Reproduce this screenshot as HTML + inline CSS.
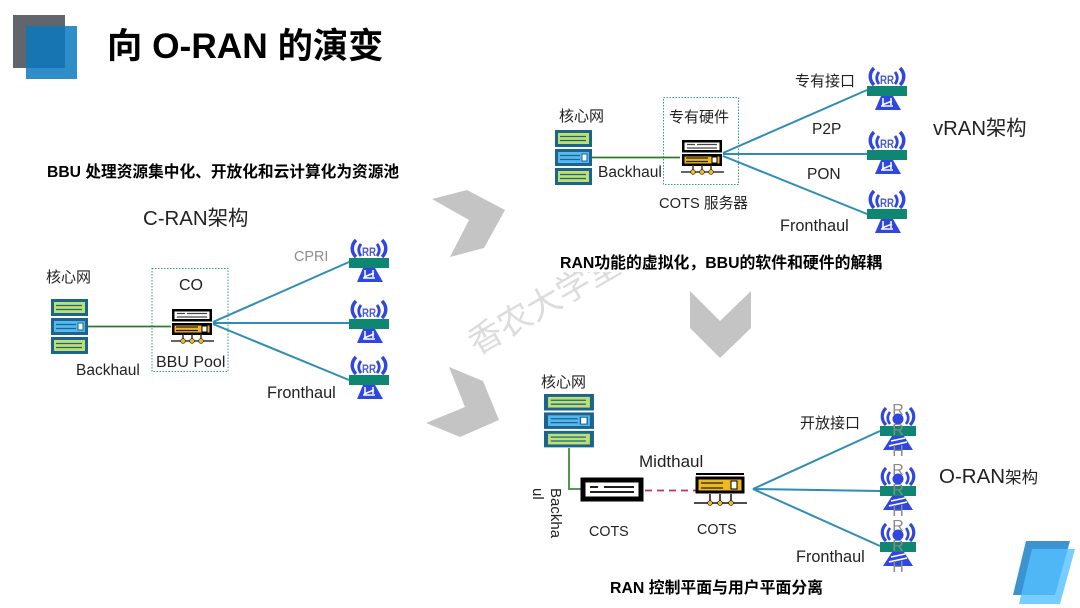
<!DOCTYPE html>
<html><head><meta charset="utf-8"><style>
html,body{margin:0;padding:0;background:#fff}
svg{display:block}
text{font-family:"Liberation Sans","Noto Sans CJK SC",sans-serif;fill:#222}
.b{font-weight:700;fill:#000;font-family:"Liberation Sans","Noto Sans CJK SC",sans-serif}
</style></head><body>
<svg width="1080" height="608" viewBox="0 0 1080 608" xmlns="http://www.w3.org/2000/svg">
<defs>
<g id="stack">
<g id="sv"><rect x="0" y="0" width="37" height="17" fill="#1b6490"/><rect x="3" y="3" width="31" height="11" fill="#bfe06a"/><path d="M5 6.500h26M5 10.500h26" stroke="#1b6490" stroke-width="1.300"/></g>
<rect x="0" y="19" width="37" height="17" fill="#1b6490"/><rect x="3" y="22" width="31" height="11" fill="#55b8ee"/><path d="M5 25.500h20M5 29.500h20" stroke="#1b6490" stroke-width="1.300"/><rect x="27" y="24" width="5" height="7" fill="#fff" stroke="#1b6490"/>
<use href="#sv" y="38"/>
</g>
<g id="bbu">
<rect x="1.250" y="1.250" width="37.500" height="10" fill="#fff" stroke="#000" stroke-width="2.500"/><path d="M5 4.500h8M15 4.500h20M5 8h30" stroke="#444" stroke-width="1.300"/>
<rect x="1.250" y="15.250" width="37.500" height="9.500" fill="#eeb820" stroke="#000" stroke-width="2.500"/><path d="M4 18h22M4 21.500h22" stroke="#222" stroke-width="1.300"/><rect x="30" y="17" width="5" height="6" fill="#fff" stroke="#000"/>
<path d="M-1 32h43M11 25v7M20 25v7M29 25v7" stroke="#333" stroke-width="1.500"/>
<circle cx="11" cy="32" r="2.400" fill="#eeb820" stroke="#222" stroke-width=".6"/><circle cx="20" cy="32" r="2.400" fill="#eeb820" stroke="#222" stroke-width=".6"/><circle cx="29" cy="32" r="2.400" fill="#eeb820" stroke="#222" stroke-width=".6"/>
</g>
<g id="ant">
<g fill="none" stroke="#2f47e0">
<path d="M7 -1C2 -6 2 -13 7 -18M33 -1C38 -6 38 -13 33 -18" stroke-width="3.500"/>
<path d="M12 -2C9 -6 9 -10 12 -14M28 -2C31 -6 31 -10 28 -14" stroke-width="2.800"/>
</g>
<text x="20" y="-2" text-anchor="middle" font-size="12" font-weight="700" style="fill:#4a5cd0" textLength="14" lengthAdjust="spacingAndGlyphs">RR</text>
<path d="M14 10L26 10L34 24L8 24Z" fill="#2f47e0"/>
<path d="M16 12v7M24 12v7M15 19L25 15M14 20h12" stroke="#fff" stroke-width="1.500"/>
<rect x="0" y="0" width="40" height="10" fill="#0f8672"/>
</g>
<g id="ant2">
<g fill="none" stroke="#2f47e0">
<path d="M6 -1C1 -6 1 -13 6 -18M30 -1C35 -6 35 -13 30 -18" stroke-width="3.200"/>
<path d="M10 -2C7 -6 7 -10 10 -14M26 -2C29 -6 29 -10 26 -14" stroke-width="2.600"/>
</g>
<circle cx="18" cy="-7" r="5.500" fill="#2f47e0"/>
<path d="M12 10L24 10L33 24L3 24Z" fill="#2f47e0"/>
<path d="M11 15L25 12M9 20L27 16" stroke="#fff" stroke-width="1.600"/>
<rect x="0" y="0" width="36" height="10" fill="#0f8672"/>
<text x="18" y="-11" text-anchor="middle" font-size="16" style="fill:#8a8a8a">R</text>
<text x="18" y="9" text-anchor="middle" font-size="16" style="fill:#8a8a8a">R</text>
<text x="18" y="30" text-anchor="middle" font-size="16" style="fill:#8a8a8a">H</text>
</g>
</defs>

<rect x="13" y="15" width="52" height="53" fill="#62666c"/>
<rect x="26" y="26" width="51" height="53" fill="#0b79bd" fill-opacity=".85"/>
<text x="107" y="58" font-size="35.300" class="b">向 O-RAN 的演变</text>

<text x="47" y="177" font-size="15.700" class="b">BBU 处理资源集中化、开放化和云计算化为资源池</text>
<text x="143" y="225" font-size="20.400">C-RAN架构</text>

<polygon points="432,199 467,190 505,210 484,248 450,257 469,220" fill="#c4c4c4"/>
<polygon points="449,367 483,381 499,420 460,437 426,423 465,407" fill="#c4c4c4"/>
<polygon points="690,291 720,321 751,291 751,328 720,358 690,328" fill="#c4c4c4"/>

<text x="0" y="0" transform="translate(476.700,355.600) rotate(-30)" font-size="33.800" style="fill:#dcdcdc">香农大学堂</text>
<rect x="555" y="235" width="90" height="37" fill="#fff"/>

<!-- C-RAN -->
<text x="46" y="282" font-size="15">核心网</text>
<use href="#stack" x="51" y="299"/>
<rect x="152" y="268.500" width="76" height="103" fill="none" stroke="#2a9a8c" stroke-dasharray="1.500 1.500"/>
<path d="M88 326.500H171" stroke="#2f7a2f" stroke-width="1.800"/>
<path d="M213 322L349 262M213 323H349M213 324L349 380" stroke="#2f8db5" stroke-width="2" fill="none"/>
<use href="#bbu" x="172" y="309"/>
<text x="179" y="290" font-size="16">CO</text>
<text x="156" y="367" font-size="16">BBU Pool</text>
<text x="76" y="375" font-size="15.500">Backhaul</text>
<text x="294" y="261" font-size="14.400" style="fill:#8c8c8c">CPRI</text>
<text x="267" y="398" font-size="16.300">Fronthaul</text>
<use href="#ant" x="349" y="258"/>
<use href="#ant" x="349" y="319"/>
<use href="#ant" x="349" y="375"/>

<!-- vRAN -->
<text x="559" y="121" font-size="15">核心网</text>
<use href="#stack" x="555" y="130"/>
<rect x="663.500" y="97.500" width="75" height="87" fill="none" stroke="#2a9a8c" stroke-dasharray="1.500 1.500"/>
<path d="M592 157.500H680" stroke="#2f7a2f" stroke-width="1.800"/>
<path d="M723 153L867 90M723 154H867M723 156L867 214" stroke="#2f8db5" stroke-width="2" fill="none"/>
<use href="#bbu" x="682" y="140"/>
<text x="669" y="122" font-size="15">专有硬件</text>
<text x="598" y="177" font-size="15.500">Backhaul</text>
<text x="659" y="208" font-size="14.700">COTS 服务器</text>
<text x="795" y="86" font-size="15">专有接口</text>
<text x="812" y="134" font-size="15.500">P2P</text>
<text x="807" y="179" font-size="15.500">PON</text>
<text x="780" y="231" font-size="16.300">Fronthaul</text>
<use href="#ant" x="867" y="86"/>
<use href="#ant" x="867" y="150"/>
<use href="#ant" x="867" y="209"/>
<text x="933" y="135" font-size="20.300">vRAN架构</text>
<text x="560" y="268" font-size="15.850" class="b">RAN功能的虚拟化，BBU的软件和硬件的解耦</text>

<!-- O-RAN -->
<text x="541" y="387" font-size="15">核心网</text>
<use href="#stack" transform="translate(544,394) scale(1.350,.97)"/>
<path d="M569 448V489H590" stroke="#3c8a3c" stroke-width="1.800" fill="none"/>
<rect x="583" y="480" width="58" height="19" fill="#fff" stroke="#000" stroke-width="5"/>
<path d="M590 487h8M604 487h30M590 492h44" stroke="#000" stroke-width="1.800"/>
<path d="M645 490.500H696" stroke="#c2305c" stroke-width="1.800" stroke-dasharray="7 5"/>
<path d="M696 474h48" stroke="#000" stroke-width="2"/>
<rect x="697" y="478" width="46" height="14" fill="#eeb820" stroke="#000" stroke-width="3"/>
<path d="M701 483h22M701 488h22" stroke="#222" stroke-width="1.300"/><rect x="731" y="481" width="6" height="8" fill="#fff" stroke="#000"/>
<path d="M694 503h53M710 494v9M720 494v9M731 494v9" stroke="#111" stroke-width="1.500"/>
<circle cx="710" cy="503" r="2.400" fill="#eeb820" stroke="#111" stroke-width=".6"/><circle cx="720" cy="503" r="2.400" fill="#eeb820" stroke="#111" stroke-width=".6"/><circle cx="731" cy="503" r="2.400" fill="#eeb820" stroke="#111" stroke-width=".6"/>
<path d="M880 431L753 489L880 491M753 489L880 546" stroke="#2f8db5" stroke-width="2" fill="none"/>
<text x="639" y="467" font-size="17">Midthaul</text>
<text x="589" y="536" font-size="14.300">COTS</text>
<text x="697" y="534" font-size="14.300">COTS</text>
<text transform="translate(551,488) rotate(90)" font-size="15">Backha</text>
<text transform="translate(533,488) rotate(90)" font-size="15">ul</text>
<text x="800" y="428" font-size="15">开放接口</text>
<text x="796" y="562" font-size="16.300">Fronthaul</text>
<use href="#ant2" x="880" y="426"/>
<use href="#ant2" x="880" y="486"/>
<use href="#ant2" x="880" y="542"/>
<text x="939" y="483" font-size="20.500">O-RAN<tspan font-size="16.500">架构</tspan></text>
<text x="610" y="593" font-size="15.850" class="b">RAN 控制平面与用户平面分离</text>

<polygon points="1026,541 1070,541 1055,595 1013,595" fill="#3b93d0"/>
<polygon points="1032,549 1075,549 1060,604 1019,604" fill="#55c0ff" fill-opacity=".8"/>
</svg>
</body></html>
